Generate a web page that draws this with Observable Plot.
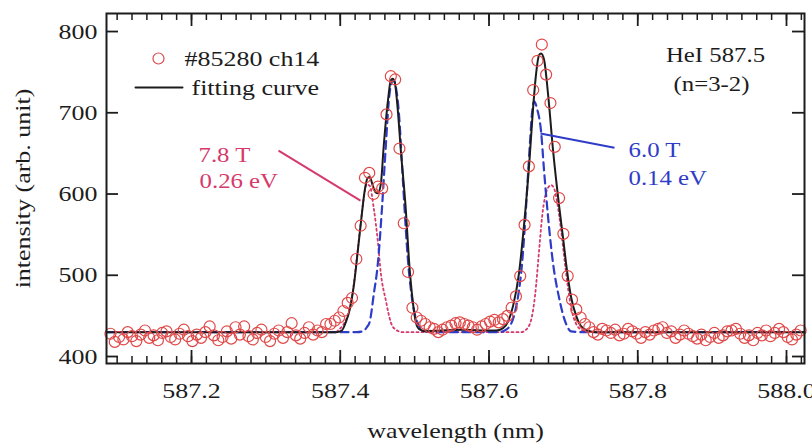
<!DOCTYPE html>
<html>
<head>
<meta charset="utf-8">
<script src="https://cdn.jsdelivr.net/npm/d3@7"></script>
<script src="https://cdn.jsdelivr.net/npm/@observablehq/plot@0.6"></script>
<style>
  html, body { margin: 0; padding: 0; background: #fff; }
  #chart svg { display: block; }
</style>
</head>
<body>
<div id="chart"></div>
<script>
// Measured spectrum, HeI 587.5 nm line, shot #85280 channel 14
const wavelength = [
  587.0910, 587.0968, 587.1026, 587.1084, 587.1142, 587.1200, 587.1258, 587.1316, 587.1374, 587.1432,
  587.1490, 587.1548, 587.1606, 587.1664, 587.1722, 587.1780, 587.1838, 587.1896, 587.1954, 587.2012,
  587.2070, 587.2128, 587.2186, 587.2244, 587.2302, 587.2360, 587.2418, 587.2476, 587.2534, 587.2592,
  587.2650, 587.2708, 587.2766, 587.2824, 587.2882, 587.2940, 587.2998, 587.3056, 587.3114, 587.3172,
  587.3230, 587.3288, 587.3346, 587.3404, 587.3462, 587.3520, 587.3578, 587.3636, 587.3694, 587.3752,
  587.3810, 587.3868, 587.3926, 587.3984, 587.4042, 587.4100, 587.4158, 587.4216, 587.4274, 587.4332,
  587.4390, 587.4448, 587.4506, 587.4564, 587.4622, 587.4680, 587.4738, 587.4796, 587.4854, 587.4912,
  587.4970, 587.5028, 587.5086, 587.5144, 587.5202, 587.5260, 587.5318, 587.5376, 587.5434, 587.5492,
  587.5550, 587.5608, 587.5666, 587.5724, 587.5782, 587.5840, 587.5898, 587.5956, 587.6014, 587.6072,
  587.6130, 587.6188, 587.6246, 587.6304, 587.6362, 587.6420, 587.6478, 587.6536, 587.6594, 587.6652,
  587.6710, 587.6768, 587.6826, 587.6884, 587.6942, 587.7000, 587.7058, 587.7116, 587.7174, 587.7232,
  587.7290, 587.7348, 587.7406, 587.7464, 587.7522, 587.7580, 587.7638, 587.7696, 587.7754, 587.7812,
  587.7870, 587.7928, 587.7986, 587.8044, 587.8102, 587.8160, 587.8218, 587.8276, 587.8334, 587.8392,
  587.8450, 587.8508, 587.8566, 587.8624, 587.8682, 587.8740, 587.8798, 587.8856, 587.8914, 587.8972,
  587.9030, 587.9088, 587.9146, 587.9204, 587.9262, 587.9320, 587.9378, 587.9436, 587.9494, 587.9552,
  587.9610, 587.9668, 587.9726, 587.9784, 587.9842, 587.9900, 587.9958, 588.0016, 588.0074, 588.0132,
  588.0190
];
const intensity = [
  428, 418, 424, 421, 430, 425, 419, 427, 432, 423,
  426, 420, 429, 431, 424, 421, 428, 433, 425, 419,
  427, 423, 430, 437, 426, 420, 424, 431, 422, 436,
  427, 437, 425, 421, 429, 433, 424, 419, 428, 432,
  423, 430, 441, 426, 422, 429, 436, 427, 432, 430,
  440, 440, 444, 448, 456, 466, 472, 520, 561, 620,
  626, 600, 609, 607, 698, 745, 741, 656, 564, 504,
  460, 448, 444, 440, 436, 434, 430, 433, 436, 438,
  441, 442, 440, 438, 436, 433, 437, 440, 443, 445,
  442, 446, 450, 460, 474, 499, 562, 634, 728, 764,
  784, 747, 712, 658, 595, 551, 499, 470, 458, 448,
  440, 436, 430, 427, 434, 432, 429, 433, 426, 428,
  434, 431, 428, 423, 430, 427, 432, 434, 436, 429,
  431, 423, 427, 432, 428, 425, 422, 427, 420, 424,
  429, 423, 426, 431, 432, 434, 428, 423, 426, 420,
  429, 426, 432, 425, 429, 434, 430, 424, 421, 427,
  432
];

// Total fitting curve
const fitWavelength = [
  587.0857, 587.3939, 587.4020, 587.4074, 587.4128, 587.4182, 587.4236, 587.4290, 587.4330, 587.4370,
  587.4397, 587.4438, 587.4478, 587.4505, 587.4545, 587.4586, 587.4640, 587.4680, 587.4707, 587.4734,
  587.4774, 587.4815, 587.4882, 587.4923, 587.4976, 587.5017, 587.5057, 587.5152, 587.5354, 587.5623,
  587.5892, 587.6094, 587.6189, 587.6256, 587.6323, 587.6404, 587.6471, 587.6539, 587.6592, 587.6633,
  587.6673, 587.6700, 587.6741, 587.6795, 587.6862, 587.6943, 587.6997, 587.7037, 587.7104, 587.7172,
  587.7239, 587.7320, 587.7441, 588.0242
];
const fitIntensity = [
  430, 430, 432, 442, 458, 487, 530, 575, 605, 620,
  621, 610, 602, 601, 612, 661, 714, 740, 742, 737,
  703, 653, 580, 520, 467, 442, 434, 431, 432, 433,
  432, 432, 435, 443, 462, 503, 562, 635, 705, 748,
  771, 773, 765, 722, 653, 585, 545, 514, 473, 450,
  437, 432, 430, 430
];

// 6.0 T component (0.14 eV)
const lowFieldWavelength = [
  587.0857, 587.4222, 587.4303, 587.4357, 587.4397, 587.4451, 587.4505, 587.4559, 587.4613, 587.4653,
  587.4694, 587.4721, 587.4747, 587.4788, 587.4828, 587.4869, 587.4909, 587.4950, 587.5003, 587.5057,
  587.5111, 587.5219, 587.6135, 587.6229, 587.6296, 587.6350, 587.6404, 587.6445, 587.6485, 587.6525,
  587.6552, 587.6579, 587.6606, 587.6646, 587.6700, 587.6741, 587.6795, 587.6862, 587.6943, 587.7037,
  587.7104, 587.7239, 588.0242
];
const lowFieldIntensity = [
  430, 430, 431, 436, 443, 477, 514, 580, 660, 715,
  738, 740, 732, 700, 640, 575, 520, 482, 452, 438,
  432, 430, 430, 433, 440, 455, 482, 515, 565, 625,
  665, 700, 714, 705, 677, 628, 571, 514, 472, 440,
  431, 430, 430
];

// 7.8 T component (0.26 eV)
const highFieldWavelength = [
  587.0857, 587.3939, 587.3980, 587.4047, 587.4114, 587.4168, 587.4222, 587.4276, 587.4316, 587.4357,
  587.4397, 587.4451, 587.4505, 587.4545, 587.4613, 587.4680, 587.4747, 587.4842, 587.6431, 587.6498,
  587.6566, 587.6619, 587.6673, 587.6714, 587.6754, 587.6795, 587.6835, 587.6875, 587.6916, 587.6970,
  587.7024, 587.7077, 587.7131, 587.7185, 587.7239, 587.7320, 587.7441, 588.0242
];
const highFieldIntensity = [
  430, 430, 433, 440, 455, 480, 520, 565, 595, 612,
  610, 582, 542, 503, 469, 442, 433, 430, 430, 433,
  445, 475, 530, 572, 597, 608, 611, 607, 590, 555,
  512, 475, 450, 438, 433, 431, 430, 430
];

const xTickValues = [587.2, 587.4, 587.6, 587.8, 588.0];
const yTickValues = [400, 500, 600, 700, 800];

const INK = "#1c1c1c";
const DATA_RED = "#e04848";
const FIELD78 = "#d63a6c";
const FIELD60 = "#2f3cc8";

const points = wavelength.map((w, i) => ({w, v: intensity[i]}));
const zipCurve = (ws, vs) => ws.map((w, i) => ({w, v: vs[i]}));
const fit = zipCurve(fitWavelength, fitIntensity);
const comp60 = zipCurve(lowFieldWavelength, lowFieldIntensity);
const comp78 = zipCurve(highFieldWavelength, highFieldIntensity);
const minorTicks = d3.range(587.1, 588.021, 0.02);

const frameW = 812 - 106 - 8;
const frameH = 443 - 13 - 80;

const chart = Plot.plot({
  width: 812,
  height: 443,
  marginLeft: 106,
  marginRight: 8,
  marginTop: 13,
  marginBottom: 80,
  x: {domain: [587.0857, 588.0242]},
  y: {domain: [391.4, 822.2]},
  style: {fontFamily: "'Liberation Serif', 'Times New Roman', serif", color: INK, background: "#fff"},
  marks: [
    // inward ticks on all four sides
    Plot.tickX(minorTicks, {x: d => d, insetTop: frameH - 7, stroke: INK, strokeWidth: 1.5}),
    Plot.tickX(minorTicks, {x: d => d, insetBottom: frameH - 7, stroke: INK, strokeWidth: 1.5}),
    Plot.tickX(xTickValues, {x: d => d, insetTop: frameH - 13, stroke: INK, strokeWidth: 1.8}),
    Plot.tickX(xTickValues, {x: d => d, insetBottom: frameH - 13, stroke: INK, strokeWidth: 1.8}),
    Plot.tickY(yTickValues, {y: d => d, insetRight: frameW - 12, stroke: INK, strokeWidth: 1.8}),
    Plot.tickY(yTickValues, {y: d => d, insetLeft: frameW - 12, stroke: INK, strokeWidth: 1.8}),
    Plot.axisX(xTickValues, {tickSize: 0, tickPadding: 19, fontSize: 22, tickFormat: d => d.toFixed(1), label: null}),
    Plot.axisY(yTickValues, {tickSize: 0, tickPadding: 9, fontSize: 22, label: null}),
    Plot.text(["wavelength (nm)"], {frameAnchor: "bottom", dy: 67, lineAnchor: "middle", fontSize: 22, fill: INK}),
    Plot.text(["intensity (arb. unit)"], {frameAnchor: "left", dx: -84, rotate: -90, textAnchor: "middle", lineAnchor: "middle", fontSize: 22, fill: INK}),

    // fit components and total fit
    Plot.line(comp78, {x: "w", y: "v", curve: "monotone-x", stroke: FIELD78, strokeWidth: 1.8, strokeDasharray: "2,3"}),
    Plot.line(comp60, {x: "w", y: "v", curve: "monotone-x", stroke: FIELD60, strokeWidth: 2.2, strokeDasharray: "8,5"}),
    Plot.line(fit, {x: "w", y: "v", curve: "monotone-x", stroke: INK, strokeWidth: 2}),

    // measured points
    Plot.dot(points, {x: "w", y: "v", r: 5.5, stroke: DATA_RED, strokeWidth: 1.2, fill: "none"}),

    // legend
    Plot.dot([{w: 587.1556, v: 766.8}], {x: "w", y: "v", r: 5.5, stroke: DATA_RED, strokeWidth: 1.2, fill: "none"}),
    Plot.text([{w: 587.1906, v: 766.8, t: "#85280 ch14"}], {x: "w", y: "v", text: "t", textAnchor: "start", fontSize: 22, fill: INK}),
    Plot.line([{w: 587.1247, v: 731}, {w: 587.1879, v: 731}], {x: "w", y: "v", stroke: INK, strokeWidth: 2}),
    Plot.text([{w: 587.2, v: 731, t: "fitting curve"}], {x: "w", y: "v", text: "t", textAnchor: "start", fontSize: 22, fill: INK}),

    // line identification
    Plot.text([{w: 587.9045, v: 770.5, t: "HeI 587.5"}, {w: 587.8992, v: 734.8, t: "(n=3-2)"}],
      {x: "w", y: "v", text: "t", fontSize: 21, fill: INK}),

    // component annotations
    Plot.link([{w1: 587.3170, v1: 653.5, w2: 587.4272, v2: 592}], {x1: "w1", y1: "v1", x2: "w2", y2: "v2", stroke: FIELD78, strokeWidth: 2}),
    Plot.text([{w: 587.2094, v: 648, t: "7.8 T"}, {w: 587.2108, v: 616, t: "0.26 eV"}],
      {x: "w", y: "v", text: "t", textAnchor: "start", fontSize: 21, fill: FIELD78}),
    Plot.link([{w1: 587.7687, v1: 657, w2: 587.6692, v2: 674.5}], {x1: "w1", y1: "v1", x2: "w2", y2: "v2", stroke: FIELD60, strokeWidth: 2}),
    Plot.text([{w: 587.7876, v: 654, t: "6.0 T"}, {w: 587.7876, v: 619, t: "0.14 eV"}],
      {x: "w", y: "v", text: "t", textAnchor: "start", fontSize: 21, fill: FIELD60}),

    Plot.frame({stroke: INK, strokeWidth: 2})
  ]
});

document.getElementById("chart").append(chart);

// the typeface is set slightly wide
chart.querySelectorAll("text").forEach(t => {
  const w = t.getComputedTextLength();
  if (w > 0) {
    t.setAttribute("textLength", (w * 1.18).toFixed(1));
    t.setAttribute("lengthAdjust", "spacingAndGlyphs");
  }
});
</script>
</body>
</html>
